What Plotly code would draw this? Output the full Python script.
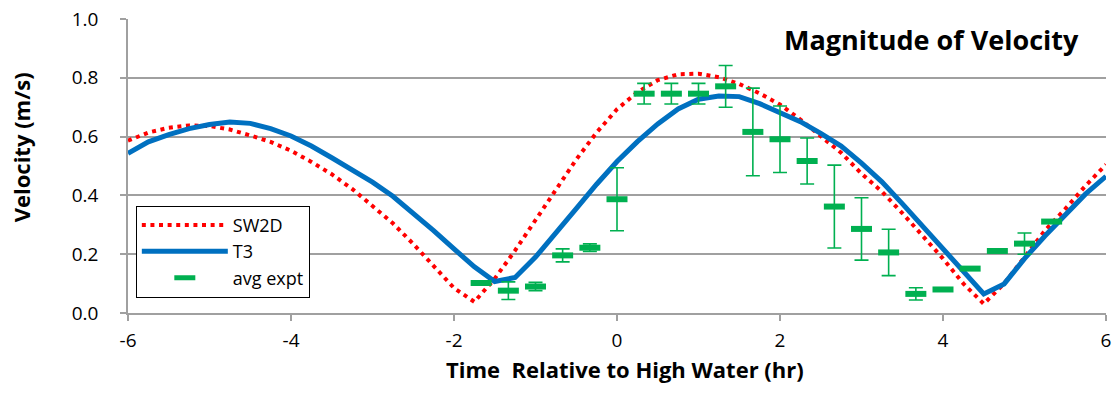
import plotly.graph_objects as go

# Model time grid (hours relative to high water)
t_model = [-6.00, -5.75, -5.50, -5.25, -5.00, -4.75, -4.50, -4.25, -4.00, -3.75,
           -3.50, -3.25, -3.00, -2.75, -2.50, -2.25, -2.00, -1.75, -1.50, -1.25,
           -1.00, -0.75, -0.50, -0.25, 0.00, 0.25, 0.50, 0.75, 1.00, 1.25,
           1.50, 1.75, 2.00, 2.25, 2.50, 2.75, 3.00, 3.25, 3.50, 3.75,
           4.00, 4.25, 4.50, 4.75, 5.00, 5.25, 5.50, 5.75, 6.00]

sw2d = [0.586, 0.614, 0.630, 0.638, 0.636, 0.624, 0.604, 0.582, 0.552, 0.514,
        0.472, 0.422, 0.364, 0.305, 0.235, 0.162, 0.085, 0.038, 0.117, 0.213,
        0.315, 0.420, 0.522, 0.614, 0.693, 0.751, 0.792, 0.812, 0.814, 0.802,
        0.779, 0.747, 0.709, 0.658, 0.601, 0.545, 0.474, 0.413, 0.340, 0.262,
        0.185, 0.100, 0.031, 0.100, 0.190, 0.280, 0.354, 0.433, 0.505]

t3 = [0.543, 0.582, 0.607, 0.627, 0.641, 0.650, 0.645, 0.627, 0.602, 0.568,
      0.528, 0.487, 0.445, 0.397, 0.340, 0.280, 0.218, 0.157, 0.107, 0.121,
      0.190, 0.270, 0.355, 0.438, 0.515, 0.583, 0.643, 0.694, 0.727, 0.738,
      0.736, 0.712, 0.683, 0.651, 0.611, 0.568, 0.510, 0.446, 0.372, 0.296,
      0.214, 0.141, 0.065, 0.099, 0.185, 0.262, 0.335, 0.405, 0.465]

# Experimental averages
t_expt = [-1.667, -1.333, -1.000, -0.667, -0.333, 0.000, 0.333, 0.667, 1.000, 1.333,
          1.667, 2.000, 2.333, 2.667, 3.000, 3.333, 3.667, 4.000, 4.333, 4.667,
          5.000, 5.333]
v_expt = [0.102, 0.076, 0.090, 0.196, 0.222, 0.387, 0.746, 0.746, 0.746, 0.771,
          0.616, 0.591, 0.517, 0.362, 0.286, 0.206, 0.065, 0.080, 0.151, 0.211,
          0.236, 0.311]
err_expt = [0.0, 0.030, 0.014, 0.022, 0.013, 0.107, 0.035, 0.035, 0.035, 0.071,
            0.149, 0.113, 0.078, 0.141, 0.106, 0.079, 0.021, 0.0, 0.0, 0.0,
            0.036, 0.0]

x_ticks = [-6, -4, -2, 0, 2, 4, 6]
y_ticks = [0.0, 0.2, 0.4, 0.6, 0.8, 1.0]

FONT = "Open Sans, sans-serif"
GREEN = "#00B050"
GRID = "#A0A0A0"

fig = go.Figure()
fig.add_trace(go.Scatter(
    x=t_model, y=sw2d, name="SW2D", mode="lines", legendgroup="a",
    line=dict(color="#FF0000", width=4, dash="4px,4.6px"),
))
fig.add_trace(go.Scatter(
    x=t_model, y=t3, name="T3", mode="lines", legendgroup="b",
    line=dict(color="#0070C0", width=5),
))
fig.add_trace(go.Scatter(
    x=t_expt, y=v_expt, name="avg expt", mode="markers", legendgroup="c",
    marker=dict(symbol="line-ew", size=15, line=dict(color=GREEN, width=6), color=GREEN),
    error_y=dict(type="data", array=err_expt, visible=True, color=GREEN,
                 thickness=1.6, width=7),
))

fig.update_layout(
    width=1118, height=394,
    margin=dict(l=128, r=12, t=19, b=81, autoexpand=False),
    paper_bgcolor="white", plot_bgcolor="white",
    font=dict(family=FONT, size=18, color="black"),
    showlegend=True,
    legend=dict(
        x=0.008, y=0.365, xanchor="left", yanchor="top",
        bgcolor="white", bordercolor="black", borderwidth=1,
        font=dict(family=FONT, size=18, color="black"),
        tracegroupgap=0, itemwidth=86,
    ),
    annotations=[
        dict(text="<b>Magnitude of Velocity</b>", xref="paper", yref="paper",
             x=0.974, y=0.93, xanchor="right", yanchor="middle", showarrow=False,
             font=dict(family=FONT, size=27, color="black")),
        dict(text="<b>Velocity (m/s)</b>", xref="paper", yref="paper",
             x=-0.11, y=0.565, xanchor="center", yanchor="middle", showarrow=False,
             textangle=-90, font=dict(family=FONT, size=22, color="black")),
        dict(text="<b>Time\u00a0 Relative to High Water (hr)</b>", xref="paper", yref="paper",
             x=0.5082, y=-0.19, xanchor="center", yanchor="middle", showarrow=False,
             font=dict(family=FONT, size=22, color="black")),
    ],
)

fig.update_xaxes(
    range=[-6, 6], tickvals=x_ticks, ticktext=[str(v) for v in x_ticks],
    automargin=False,
    showgrid=False, zeroline=False,
    showline=True, linecolor=GRID, linewidth=1.5,
    ticks="outside", ticklen=6, tickcolor=GRID, tickwidth=1.5,
    ticklabelstandoff=3,
    tickfont=dict(family=FONT, size=19),
)
fig.update_yaxes(
    range=[0, 1], tickvals=y_ticks, ticktext=[f"{v:.1f}" for v in y_ticks],
    automargin=False,
    showgrid=True, gridcolor=GRID, gridwidth=1.5, zeroline=False,
    showline=True, linecolor=GRID, linewidth=1.5,
    ticks="outside", ticklen=6, tickcolor=GRID, tickwidth=1.5,
    ticklabelstandoff=18,
    tickfont=dict(family=FONT, size=19),
)

fig.write_html("out.html", config={"displayModeBar": False},
               post_script="document.body.style.margin='0';document.body.style.overflow='hidden';")
